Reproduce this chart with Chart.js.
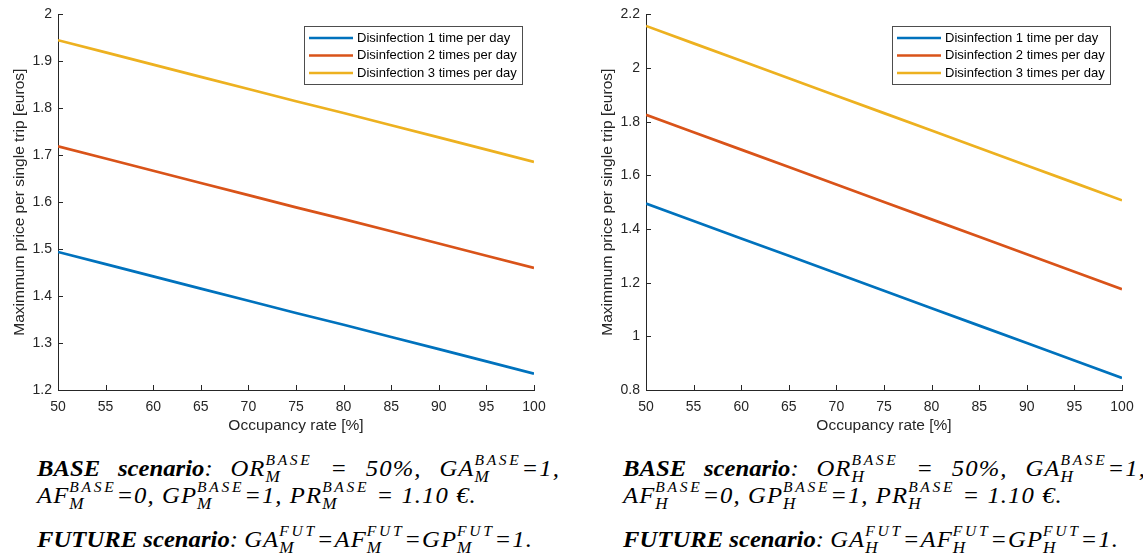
<!DOCTYPE html>
<html><head><meta charset="utf-8">
<script src="https://cdn.jsdelivr.net/npm/chart.js@4.4.1/dist/chart.umd.min.js"></script>
<style>
html,body{margin:0;padding:0;background:#fff;width:1143px;height:555px;overflow:hidden;position:relative;}
canvas{position:absolute;top:0;}
#c1{left:0}
#c2{left:588px}
.cap{position:absolute;font-family:"Liberation Serif","Times New Roman",serif;font-style:italic;font-size:23px;line-height:26px;white-space:nowrap;transform-origin:0 0;color:#000}
.cap b{font-weight:bold;letter-spacing:0}
.m{letter-spacing:1px}
.ss{position:relative;display:inline-block}
.sp{position:relative;top:-11px;font-size:14.5px;letter-spacing:2.5px;line-height:0}
.sb{position:absolute;left:0;top:13px;font-size:16px;line-height:15px;letter-spacing:0}
.just{display:flex;justify-content:space-between}
</style></head>
<body>
<canvas id="c1" width="588" height="440"></canvas>
<canvas id="c2" width="588" height="440"></canvas>
<div id="caps"></div>
<script>
// ---- data ----
const occupancy = [50, 55, 60, 65, 70, 75, 80, 85, 90, 95, 100];
const seriesNames = ['Disinfection 1 time per day', 'Disinfection 2 times per day', 'Disinfection 3 times per day'];
const leftOnce   = [1.494, 1.468, 1.442, 1.416, 1.390, 1.364, 1.339, 1.313, 1.287, 1.261, 1.235];
const leftTwice  = [1.719, 1.693, 1.667, 1.641, 1.615, 1.589, 1.564, 1.538, 1.512, 1.486, 1.460];
const leftThrice = [1.945, 1.919, 1.893, 1.867, 1.841, 1.815, 1.790, 1.764, 1.738, 1.712, 1.686];
const rightOnce   = [1.495, 1.430, 1.365, 1.300, 1.235, 1.170, 1.105, 1.040, 0.975, 0.910, 0.845];
const rightTwice  = [1.826, 1.761, 1.696, 1.631, 1.566, 1.501, 1.436, 1.371, 1.306, 1.241, 1.176];
const rightThrice = [2.157, 2.092, 2.027, 1.962, 1.897, 1.832, 1.767, 1.702, 1.637, 1.572, 1.507];
const xTicks = [50, 55, 60, 65, 70, 75, 80, 85, 90, 95, 100];
const leftYTicks = [1.2, 1.3, 1.4, 1.5, 1.6, 1.7, 1.8, 1.9, 2];
const rightYTicks = [0.8, 1, 1.2, 1.4, 1.6, 1.8, 2, 2.2];
const xTitle = 'Occupancy rate [%]';
const yTitle = 'Maximmum price per single trip [euros]';
const colors = ['#0072BD', '#D95319', '#EDB120'];

const AX = '#262626';
const SANS = '"Liberation Sans", Arial, sans-serif';

const innerTicks = {
  id: 'innerTicks',
  afterDraw(chart) {
    const {ctx, chartArea: a, scales: {x, y}} = chart;
    ctx.save();
    ctx.strokeStyle = AX; ctx.lineWidth = 1;
    ctx.beginPath();
    x.ticks.forEach(t => { const px = Math.round(x.getPixelForValue(t.value)) + 0.5; ctx.moveTo(px, a.bottom); ctx.lineTo(px, a.bottom - 5); });
    y.ticks.forEach(t => { const py = Math.round(y.getPixelForValue(t.value)) + 0.5; ctx.moveTo(a.left, py); ctx.lineTo(a.left + 5, py); });
    ctx.stroke();
    ctx.restore();
  }
};

const boxLegend = {
  id: 'boxLegend',
  afterDatasetsDraw(chart) {
    const {ctx, chartArea: a} = chart;
    ctx.save();
    ctx.font = '13px ' + SANS;
    const ds = chart.data.datasets;
    const textW = Math.max(...ds.map(d => ctx.measureText(d.label).width));
    const lineLen = 44, padL = 5, gap = 4, padR = 5, h = 58;
    const w = Math.round(padL + lineLen + gap + textW + padR);
    const x0 = Math.round(a.right - 12 - w), y0 = Math.round(a.top + 12);
    ctx.fillStyle = '#fff'; ctx.fillRect(x0, y0, w, h);
    ctx.strokeStyle = '#4d4d4d'; ctx.lineWidth = 1;
    ctx.strokeRect(x0 + 0.5, y0 + 0.5, w, h);
    ds.forEach((d, i) => {
      const cy = y0 + 12 + i * 17.5;
      ctx.strokeStyle = d.borderColor; ctx.lineWidth = d.borderWidth;
      ctx.beginPath(); ctx.moveTo(x0 + padL, cy); ctx.lineTo(x0 + padL + lineLen, cy); ctx.stroke();
      ctx.fillStyle = '#000'; ctx.textBaseline = 'middle'; ctx.textAlign = 'left';
      ctx.fillText(d.label, x0 + padL + lineLen + gap, cy);
    });
    ctx.restore();
  }
};

function makeChart(id, series, yTicks) {
  return new Chart(document.getElementById(id), {
    type: 'line',
    data: {
      datasets: series.map((vals, i) => ({
        label: seriesNames[i],
        data: occupancy.map((x, j) => ({x: x, y: vals[j]})),
        borderColor: colors[i], backgroundColor: colors[i],
        borderWidth: 2.7, pointRadius: 0, tension: 0, fill: false
      }))
    },
    options: {
      responsive: false, animation: false, devicePixelRatio: 1,
      layout: {padding: {top: 13, left: 0, right: 54, bottom: 0}},
      plugins: {legend: {display: false}, tooltip: {enabled: false}},
      scales: {
        x: {
          type: 'linear', min: xTicks[0], max: xTicks[xTicks.length - 1],
          afterBuildTicks: s => { s.ticks = xTicks.map(v => ({value: v})); },
          afterFit: s => { s.height = 50; },
          grid: {display: false, drawTicks: false},
          border: {display: true, color: AX, width: 1},
          ticks: {color: AX, font: {family: SANS, size: 14}, padding: 9, maxRotation: 0, autoSkip: false, callback: v => String(v)},
          title: {display: true, text: xTitle, color: AX, font: {family: SANS, size: 15.5}, padding: {top: 0, bottom: 5}}
        },
        y: {
          type: 'linear', min: yTicks[0], max: yTicks[yTicks.length - 1],
          afterBuildTicks: s => { s.ticks = yTicks.map(v => ({value: v})); },
          afterFit: s => { s.width = 58; },
          grid: {display: false, drawTicks: false},
          border: {display: true, color: AX, width: 1},
          ticks: {color: AX, font: {family: SANS, size: 14}, padding: 6, autoSkip: false, callback: v => String(v)},
          title: {display: true, text: yTitle, color: AX, font: {family: SANS, size: 15.5}, padding: {top: 10, bottom: 0}}
        }
      }
    },
    plugins: [innerTicks, boxLegend]
  });
}

makeChart('c1', [leftOnce, leftTwice, leftThrice], leftYTicks);
makeChart('c2', [rightOnce, rightTwice, rightThrice], rightYTicks);

// ---- captions ----
function v(sym, sub, sup) {
  return sym + '<span class="ss"><span class="sp">' + sup + '</span><span class="sb">' + sub + '</span></span>';
}
function buildCaption(left, s) {
  const wrap = document.getElementById('caps');
  const l1 = document.createElement('div');
  l1.className = 'cap just';
  l1.innerHTML = ['<span><b>BASE</b></span>', '<span><b>scenario</b>:</span>',
    '<span class="m">' + v('OR', s, 'BASE') + '</span>', '<span class="m">=</span>', '<span class="m">50%,</span>',
    '<span class="m">' + v('GA', s, 'BASE') + '=1,</span>'].join('');
  const l2 = document.createElement('div');
  l2.className = 'cap m';
  l2.innerHTML = v('AF', s, 'BASE') + '=0, ' + v('GP', s, 'BASE') + '=1, ' + v('PR', s, 'BASE') + ' = 1.10 €.';
  const l3 = document.createElement('div');
  l3.className = 'cap';
  l3.innerHTML = '<b>FUTURE scenario</b>: <span class="m">' + v('GA', s, 'FUT') + '=' + v('AF', s, 'FUT') + '=' + v('GP', s, 'FUT') + '=1.</span>';
  [l1, l2, l3].forEach(el => { el.style.left = left + 'px'; wrap.appendChild(el); });
  l1.style.top = '456px'; l2.style.top = '483px'; l3.style.top = '527px';
  const sc = 496 / l3.getBoundingClientRect().width;
  l1.style.width = (523 / sc) + 'px';
  [l1, l2, l3].forEach(el => { el.style.transform = 'scaleX(' + sc + ')'; });
}
buildCaption(37, 'M');
buildCaption(623, 'H');
</script>
</body></html>
